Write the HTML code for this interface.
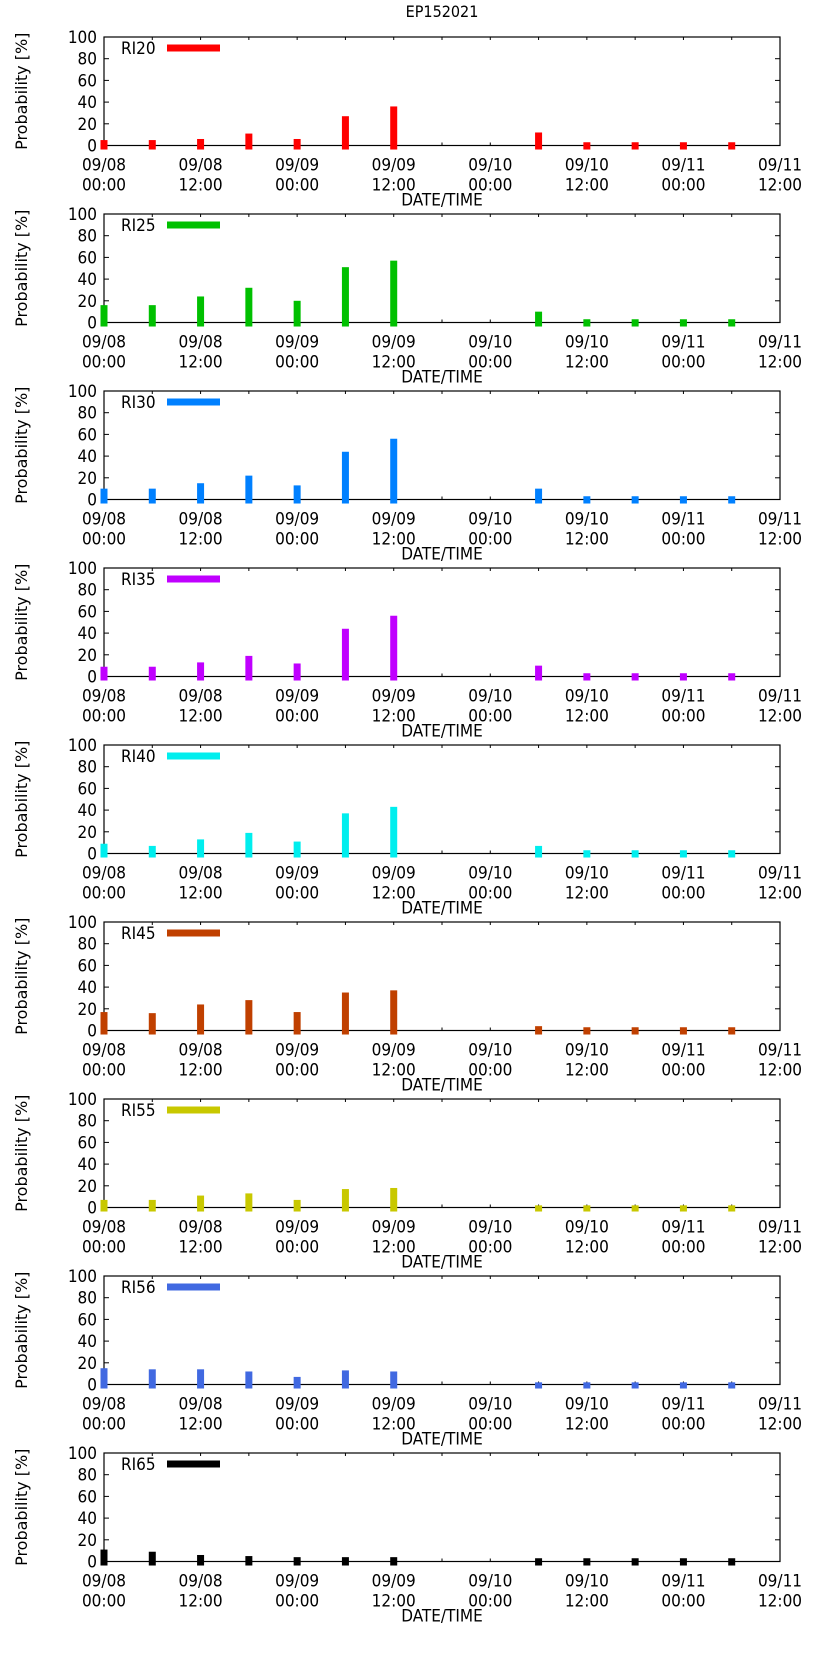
<!DOCTYPE html>
<html><head><meta charset="utf-8"><style>
html,body{margin:0;padding:0;background:#fff;}
svg{display:block;font-family:"DejaVu Sans Condensed","Liberation Sans Narrow","Liberation Sans",sans-serif;}
</style></head><body>
<svg id="chart" width="823" height="1653" viewBox="0 0 823 1653" xmlns="http://www.w3.org/2000/svg">
<text x="442" y="17" font-size="16" text-anchor="middle">EP152021</text>
</svg>
<script>
const seriesNames = ["RI20","RI25","RI30","RI35","RI40","RI45","RI55","RI56","RI65"];
const seriesColors = ["#ff0000","#00c000","#0080ff","#c000ff","#00eeee","#c04000","#c8c800","#4169e1","#000000"];
const hours = [0,6,12,18,24,30,36,54,60,66,72,78];
const ri20 = [5,5,6,11,6,27,36,12,3,3,3,3];
const ri25 = [16,16,24,32,20,51,57,10,3,3,3,3];
const ri30 = [10,10,15,22,13,44,56,10,3,3,3,3];
const ri35 = [9,9,13,19,12,44,56,10,3,3,3,3];
const ri40 = [9,7,13,19,11,37,43,7,3,3,3,3];
const ri45 = [17,16,24,28,17,35,37,4,3,3,3,3];
const ri55 = [7,7,11,13,7,17,18,2,2,2,2,2];
const ri56 = [15,14,14,12,7,13,12,2,2,2,2,2];
const ri65 = [11,9,6,5,4,4,4,3,3,3,3,3];
const allSeries = [ri20,ri25,ri30,ri35,ri40,ri45,ri55,ri56,ri65];
const yTicks = [0,20,40,60,80,100];
const xTickHours = [0,12,24,36,48,60,72,84];
const xTickLine1 = ["09/08","09/08","09/09","09/09","09/10","09/10","09/11","09/11"];
const xTickLine2 = ["00:00","12:00","00:00","12:00","00:00","12:00","00:00","12:00"];

const NS="http://www.w3.org/2000/svg";
const svg=document.getElementById('chart');
const L=104, R=780, PH=108.5, STEP=177, TOP0=37;
function mk(tag,attrs,parent){const e=document.createElementNS(NS,tag);for(const k in attrs)e.setAttribute(k,attrs[k]);(parent||svg).appendChild(e);return e;}
function xs(h){return L+(R-L)*h/84;}

allSeries.forEach((vals,i)=>{
  const top=TOP0+STEP*i, bot=top+PH;
  const ys=v=>bot-PH*v/100;
  const g=mk('g',{});
  
  
  yTicks.forEach(t=>{
    const y=ys(t);
    mk('line',{x1:L,x2:L+5,y1:y,y2:y,stroke:'#000','stroke-width':1},g);
    mk('line',{x1:R,x2:R-5,y1:y,y2:y,stroke:'#000','stroke-width':1},g);
    const tx=mk('text',{x:L-7,y:y+6,'font-size':17,'text-anchor':'end'},g);
    tx.textContent=t;
    
    
  });
  for(let h=6;h<84;h+=6){
    const x=xs(h);
    mk('line',{x1:x,x2:x,y1:bot,y2:bot-3,stroke:'#000','stroke-width':1},g);
    mk('line',{x1:x,x2:x,y1:top,y2:top+3,stroke:'#000','stroke-width':1},g);
  }
  xTickHours.forEach((h,k)=>{
    const x=xs(h);
    const t1=mk('text',{x:x,y:bot+25,'font-size':17,'text-anchor':'middle'},g);
    t1.textContent=xTickLine1[k];
    
    
    const t2=mk('text',{x:x,y:bot+45,'font-size':17,'text-anchor':'middle'},g);
    t2.textContent=xTickLine2[k];
    
    
  });
  const fr=mk('rect',{x:L,y:top,width:R-L,height:PH,fill:'none',stroke:'#000','stroke-width':1.2},g);
  
  
  vals.forEach((v,j)=>{
    const cx=xs(hours[j]);
    const b=mk('rect',{x:cx-3.5,y:ys(v),width:7,height:ys(-3.7)-ys(v),fill:seriesColors[i]},g);
    
    
  });
  const xt=mk('text',{x:442,y:bot+60,'font-size':17,'text-anchor':'middle'},g);
  xt.textContent='DATE/TIME';
  
  
  const yc=(top+bot)/2;
  const yt=mk('text',{x:27,y:yc,'font-size':16,'text-anchor':'middle','font-family':'"DejaVu Sans","Liberation Sans",sans-serif',transform:'rotate(-90 27 '+yc+')'},g);
  yt.textContent='Probability [%]';
  
  
  const lg=mk('g',{},g);
  
  
  const lt=mk('text',{x:121,y:top+17,'font-size':17},lg);
  lt.textContent=seriesNames[i];
  mk('rect',{x:167,y:top+7.5,width:53,height:7,fill:seriesColors[i]},lg);
});
</script>
</body></html>
